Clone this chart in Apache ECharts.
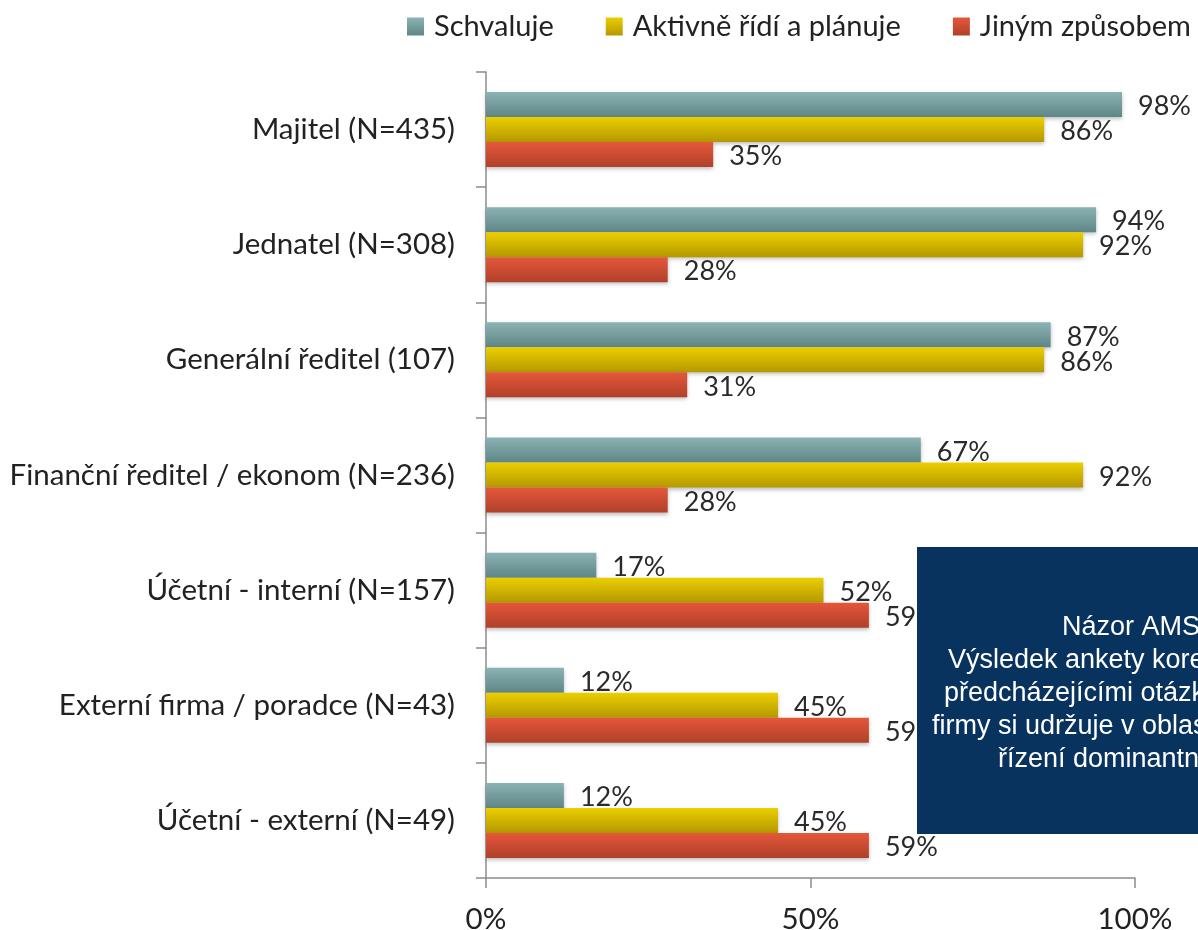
<!DOCTYPE html>
<html lang="cs">
<head>
    <meta charset="UTF-8">
    <title>Kdo řídí finance</title>
    <script src="https://cdn.jsdelivr.net/npm/echarts@6/dist/echarts.min.js"></script>
    <style>
        html, body { margin: 0; padding: 0; background: #fff; }
        #main { width: 1198px; height: 930px; }
    </style>
</head>
<body>
<div id="main"></div>
<script>
    // data
    var categories = [
        'Majitel (N=435)',
        'Jednatel (N=308)',
        'Generální ředitel (107)',
        'Finanční ředitel / ekonom (N=236)',
        'Účetní - interní (N=157)',
        'Externí firma / poradce (N=43)',
        'Účetní - externí (N=49)'
    ];
    var seriesNames = ['Schvaluje', 'Aktivně řídí a plánuje', 'Jiným způsobem'];
    var schvaluje = [98, 94, 87, 67, 17, 12, 12];
    var aktivne = [86, 92, 86, 92, 52, 45, 45];
    var jinym = [35, 28, 31, 28, 59, 59, 59];
    var tickLabels = ['0%', '50%', '100%'];
    var noteLines = [
        'Názor AMS:',
        'Výsledek ankety koresponduje s',
        'předcházejícími otázkami. Majitel',
        'firmy si udržuje v oblasti financí',
        'řízení dominantní roli.'
    ];

    var font = "Lato, Carlito, 'Open Sans', sans-serif";

    function grad(top, bottom) {
        return new echarts.graphic.LinearGradient(0, 0, 0, 1, [
            {offset: 0, color: top},
            {offset: 1, color: bottom}
        ]);
    }
    var colors = [
        grad('#8bb3b3', '#5f8686'),
        grad('#ebcf00', '#b59800'),
        grad('#e5573a', '#b0402a')
    ];

    function makeSeries(name, values, color) {
        return {
            name: name,
            type: 'bar',
            data: values,
            barWidth: 25,
            barGap: '0%',
            itemStyle: {
                color: color,
                shadowColor: 'rgba(0,0,0,0.25)',
                shadowBlur: 4,
                shadowOffsetY: 2
            },
            label: {
                show: true,
                position: 'right',
                distance: 16,
                offset: [0, 2],
                formatter: '{c}%',
                color: '#2a2a2a',
                fontFamily: font,
                fontSize: 27
            }
        };
    }

    // the note box is cut by the right edge, as in the picture
    var noteX = [1062, 948, 944, 932, 998];
    var noteGraphics = [{
        type: 'rect',
        left: 917,
        top: 547,
        z: 100,
        shape: {width: 400, height: 287},
        style: {fill: '#08335f'}
    }];
    noteLines.forEach(function (line, i) {
        noteGraphics.push({
            type: 'text',
            x: noteX[i],
            y: 628 + i * 33,
            z: 101,
            style: {
                text: line,
                fill: '#ffffff',
                font: "27px 'Liberation Sans', Arial, sans-serif",
                align: 'left',
                verticalAlign: 'middle'
            }
        });
    });

    var chart = echarts.init(document.getElementById('main'));
    var option = {
        animation: false,
        backgroundColor: '#fff',
        legend: {
            top: 12,
            left: 407,
            padding: 0,
            itemWidth: 17,
            itemHeight: 18,
            itemGap: 52,
            icon: 'rect',
            textStyle: {
                fontFamily: font,
                fontSize: 29,
                color: '#222',
                padding: [0, 0, 0, 5]
            },
            data: seriesNames
        },
        grid: {
            left: 486,
            right: 63,
            top: 72,
            bottom: 52,
            outerBoundsMode: 'none'
        },
        xAxis: {
            type: 'value',
            min: 0,
            max: 100,
            interval: 50,
            splitLine: {show: false},
            axisLine: {show: true, lineStyle: {color: '#8c8c8c', width: 1.5}},
            axisTick: {show: true, length: 10, lineStyle: {color: '#8c8c8c', width: 1.5}},
            axisLabel: {
                margin: 26,
                fontFamily: font,
                fontSize: 29.5,
                color: '#222',
                formatter: function (v) { return tickLabels[v / 50]; }
            }
        },
        yAxis: {
            type: 'category',
            inverse: true,
            data: categories,
            axisLine: {show: true, lineStyle: {color: '#8c8c8c', width: 1.5}},
            axisTick: {show: true, length: 10, lineStyle: {color: '#8c8c8c', width: 1.5}},
            axisLabel: {
                margin: 31,
                fontFamily: font,
                fontSize: 29.5,
                color: '#222'
            }
        },
        series: [
            makeSeries(seriesNames[0], schvaluje, colors[0]),
            makeSeries(seriesNames[1], aktivne, colors[1]),
            makeSeries(seriesNames[2], jinym, colors[2])
        ],
        graphic: noteGraphics
    };
    chart.setOption(option);
</script>
</body>
</html>
